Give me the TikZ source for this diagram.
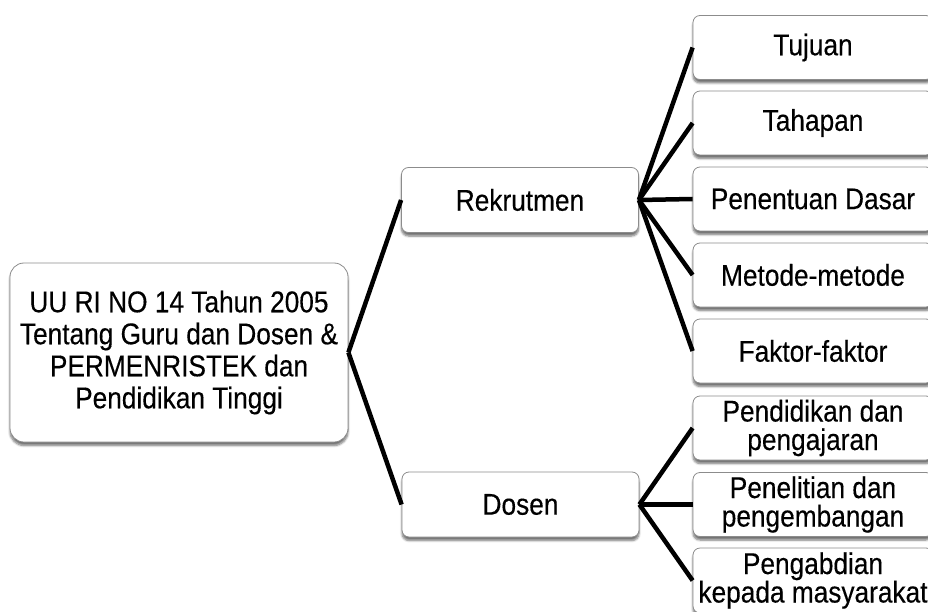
\documentclass[tikz,border=0pt]{standalone}
\usepackage{fontspec}
\setmainfont[FakeStretch=0.875,FakeBold=0.3]{Liberation Sans}
\usetikzlibrary{shadows.blur}
\begin{document}
\begin{tikzpicture}[x=1pt,y=-1pt,
  box/.style={draw=black!45, line width=0.8pt, fill=white, rounded corners=7pt,
    inner sep=0pt, align=center, text=black,
    blur shadow={shadow xshift=0pt, shadow yshift=-3.5pt, shadow blur steps=6, shadow opacity=55},
    font=\fontsize{30}{32}\selectfont},
  rootbox/.style={box, rounded corners=14pt, minimum width=338pt, minimum height=179pt},
  midbox/.style={box, minimum width=237pt, minimum height=65pt},
  leafbox/.style={box, minimum width=240pt, minimum height=64pt},
  twoline/.style={font=\fontsize{30}{28.5}\selectfont},
  conn/.style={line width=4.5pt, black}]
\useasboundingbox (0,0) rectangle (928,612);
\clip (0,0) rectangle (928,612);
\node[rootbox] (root) at (179,352.5) {UU RI NO 14 Tahun 2005\\Tentang Guru dan Dosen \&\\PERMENRISTEK dan\\Pendidikan Tinggi};
\node[midbox] (rek) at (520,200) {Rekrutmen};
\node[midbox] (dos) at (520.5,504.5) {Dosen};
\node[leafbox] (tuj) at (813,47.5) {Tujuan};
\node[leafbox] (tah) at (813,123) {Tahapan};
\node[leafbox] (pen) at (813,199) {Penentuan Dasar};
\node[leafbox] (met) at (813,275) {Metode-metode};
\node[leafbox] (fak) at (813,351) {Faktor-faktor};
\node[leafbox, twoline] (pdd) at (813,428) {Pendidikan dan\\pengajaran};
\node[leafbox, twoline] (pnl) at (813,504.5) {Penelitian dan\\pengembangan};
\node[leafbox, twoline, minimum height=65pt] (pgb) at (813,580.5) {Pengabdian\\kepada masyarakat};
\draw[conn] (root.east) -- (rek.west);
\draw[conn] (root.east) -- (dos.west);
\foreach \c in {tuj,tah,pen,met,fak} \draw[conn] (rek.east) -- (\c.west);
\foreach \c in {pdd,pnl,pgb} \draw[conn] (dos.east) -- (\c.west);
\end{tikzpicture}
\end{document}
